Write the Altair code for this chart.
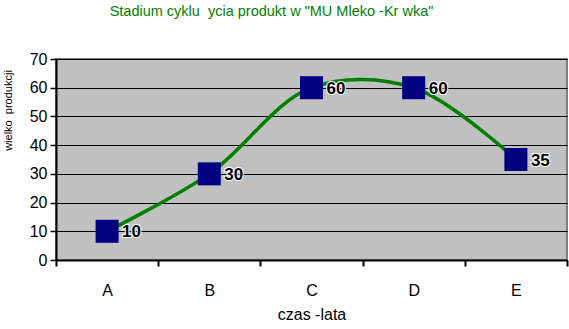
import altair as alt
import pandas as pd

categories = ["A", "B", "C", "D", "E"]
values = [10, 30, 60, 60, 35]
labels = ["10", "30", "60", "60", "35"]

title_text = 'Stadium cyklu\u00a0 ycia produkt w "MU Mleko -Kr wka"'
x_title = "czas -lata"
y_title = "wielko\u00a0 produkcji"

df = pd.DataFrame({"cat": categories, "val": values, "lab": labels})

FONT = "Liberation Sans"

x_enc = alt.X(
    "cat:N",
    sort=categories,
    scale=alt.Scale(paddingInner=0, paddingOuter=0),
    axis=alt.Axis(
        title=x_title,
        labelAngle=0,
        tickBand="extent",
        tickSize=6,
        tickColor="black",
        tickWidth=2,
        domainColor="black",
        domainWidth=2,
        labelPadding=16,
        labelFontSize=16,
        labelFont=FONT,
        labelColor="black",
        titleFont=FONT,
        titleFontSize=16,
        titleFontWeight="normal",
        titleColor="black",
        titlePadding=8,
        grid=False,
    ),
)
y_enc = alt.Y(
    "val:Q",
    scale=alt.Scale(domain=[0, 70], nice=False),
    axis=alt.Axis(
        title=y_title,
        values=[0, 10, 20, 30, 40, 50, 60, 70],
        tickSize=6,
        tickColor="black",
        tickWidth=1.5,
        domainColor="black",
        domainWidth=2,
        labelPadding=3,
        labelFontSize=16,
        labelFont=FONT,
        labelColor="black",
        grid=True,
        gridColor="black",
        gridWidth=1.2,
        titleFont=FONT,
        titleFontSize=11,
        titleFontWeight="normal",
        titleColor="black",
        titleAngle=270,
        titleAlign="center",
        titleBaseline="alphabetic",
        titleX=-45,
        titleY=51,
    ),
)

base = alt.Chart(df).encode(x=x_enc, y=y_enc)

line = base.mark_line(color="#008000", strokeWidth=3.5, interpolate="catmull-rom")
points = base.mark_point(shape="square", filled=True, size=530, color="#000080", opacity=1)
halo = base.mark_text(
    align="left", baseline="middle", dx=15, dy=1, fontSize=17, fontWeight="bold", font=FONT,
    stroke="white", strokeWidth=2, color="white"
).encode(text="lab:N")
txt = base.mark_text(
    align="left", baseline="middle", dx=15, dy=1, fontSize=17, fontWeight="bold", font=FONT,
    color="black"
).encode(text="lab:N")

chart = (
    alt.layer(line, points, halo, txt)
    .properties(
        width=511,
        height=201,
        autosize=alt.AutoSizeParams(type="none"),
        padding={"left": 56, "top": 59, "right": 2, "bottom": 69},
        background="white",
        title=alt.TitleParams(
            text=title_text,
            anchor="middle",
            dx=-40,
            offset=21,
            baseline="alphabetic",
            fontSize=14.5,
            fontWeight="normal",
            font=FONT,
            color="#008000",
        ),
    )
    .configure_view(fill="#C0C0C0", stroke="#808080", strokeWidth=2)
)

chart.save("out.html", embed_options={"renderer": "svg", "actions": False})
